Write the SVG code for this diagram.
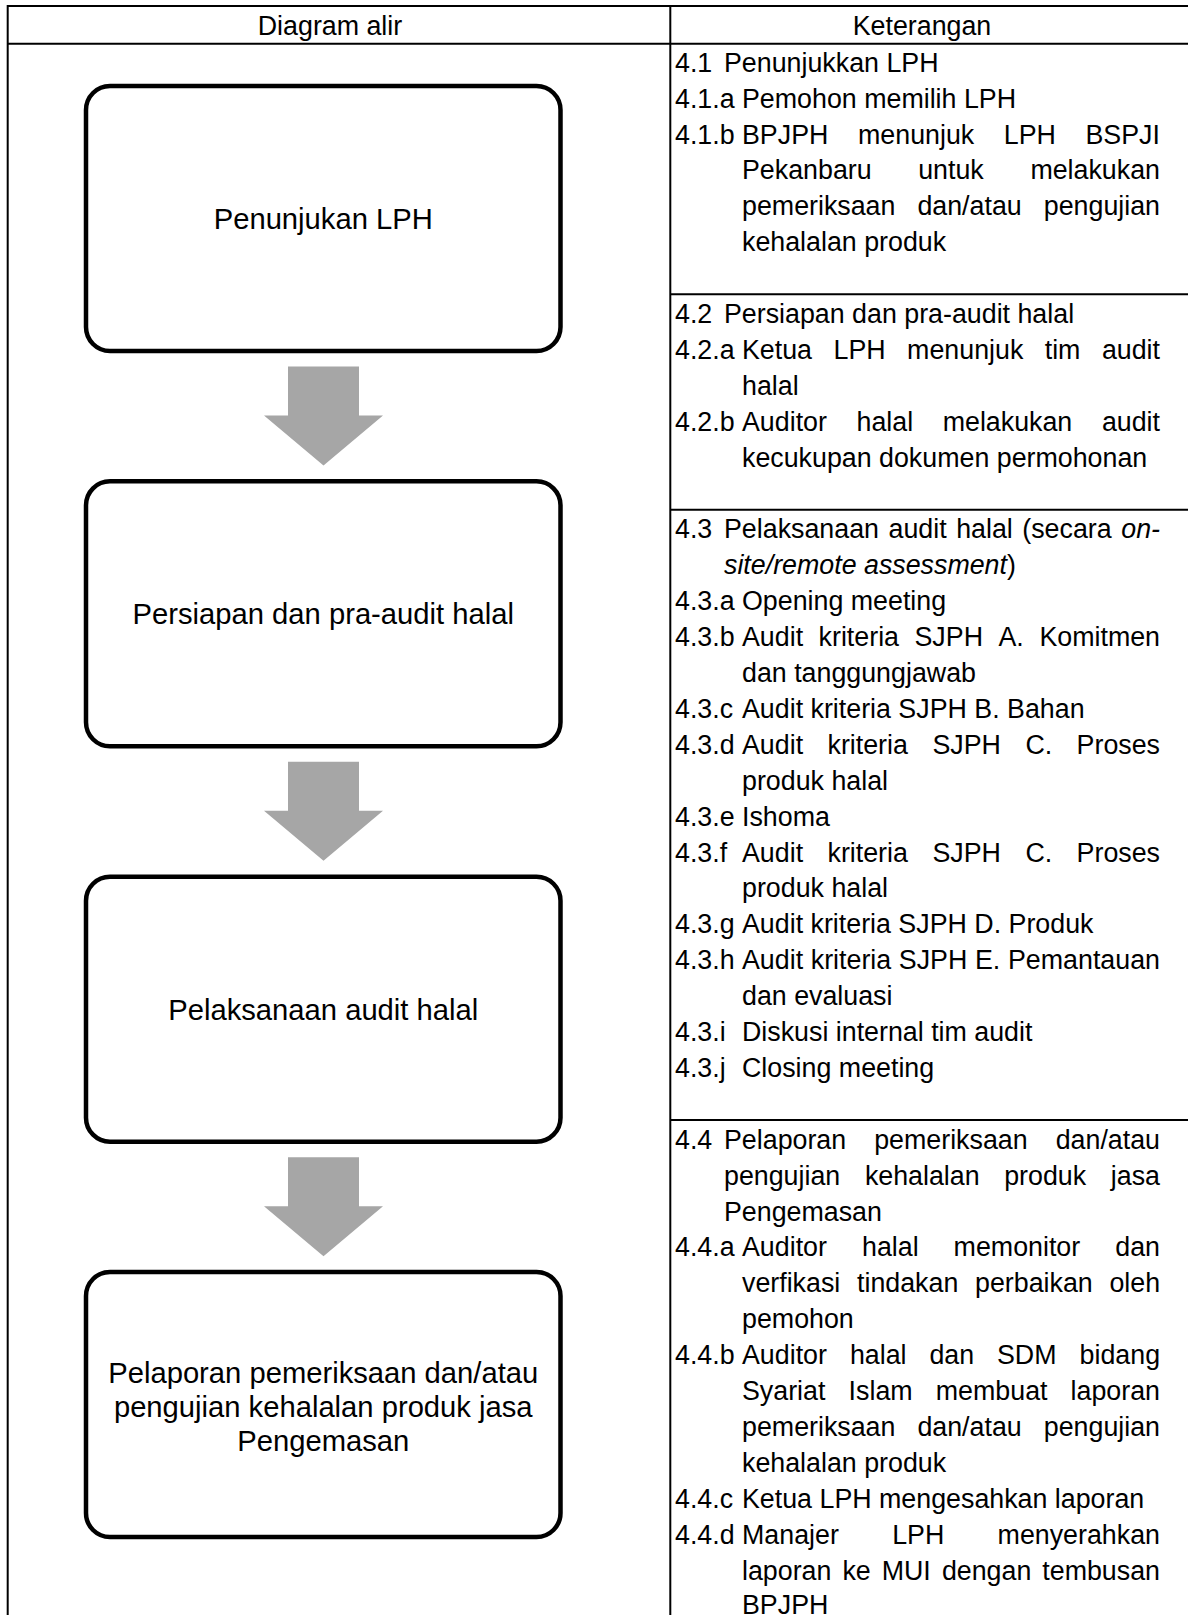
<svg xmlns="http://www.w3.org/2000/svg" xmlns:xlink="http://www.w3.org/1999/xlink" width="1188" height="1615" viewBox="0 0 1188 1615">
<style>
.grid{stroke:#000;stroke-width:2;fill:none}
.box{fill:#fff;stroke:#000;stroke-width:4.5}
.boxtxt{font-family:"Liberation Sans",Arial,sans-serif;font-size:29.2px;fill:#000;text-anchor:middle}
.hdr{font-family:"Liberation Sans",Arial,sans-serif;font-size:26.8px;fill:#000;text-anchor:middle}
.t{font-family:"Liberation Sans",Arial,sans-serif;font-size:26.8px;fill:#000}
.it{font-style:italic}
.arrow{fill:#a6a6a6}
</style>
<defs>
<path id="blockArrow" d="M-35.5,0 H35.5 V49 H59.5 L0,99 L-59.5,49 H-35.5 Z"/>
</defs>
<rect width="1188" height="1615" fill="#fff"/>
<g id="table">
<line class="grid" x1="7.7" y1="6" x2="1188" y2="6"/>
<line class="grid" x1="7.7" y1="43.7" x2="1188" y2="43.7"/>
<line class="grid" x1="7.7" y1="5" x2="7.7" y2="1615"/>
<line class="grid" x1="670.3" y1="5" x2="670.3" y2="1615"/>
<line class="grid" x1="670.3" y1="294.3" x2="1188" y2="294.3"/>
<line class="grid" x1="670.3" y1="509.7" x2="1188" y2="509.7"/>
<line class="grid" x1="670.3" y1="1120" x2="1188" y2="1120"/>
<text class="hdr" x="330" y="35">Diagram alir</text>
<text class="hdr" x="922" y="35">Keterangan</text>
</g>
<g id="node-1">
<rect class="box" x="86" y="86" width="474.5" height="265" rx="24" ry="24"/>
<text class="boxtxt" x="323.25" y="229">Penunjukan LPH</text>
</g>
<g id="node-2">
<rect class="box" x="86" y="481.3" width="474.5" height="265" rx="24" ry="24"/>
<text class="boxtxt" x="323.25" y="624">Persiapan dan pra-audit halal</text>
</g>
<g id="node-3">
<rect class="box" x="86" y="876.7" width="474.5" height="265" rx="24" ry="24"/>
<text class="boxtxt" x="323.25" y="1020">Pelaksanaan audit halal</text>
</g>
<g id="node-4">
<rect class="box" x="86" y="1272" width="474.5" height="265" rx="24" ry="24"/>
<text class="boxtxt" x="323.25" y="1383">Pelaporan pemeriksaan dan/atau</text>
<text class="boxtxt" x="323.25" y="1417">pengujian kehalalan produk jasa</text>
<text class="boxtxt" x="323.25" y="1451">Pengemasan</text>
</g>
<g id="connectors">
<use xlink:href="#blockArrow" href="#blockArrow" class="arrow" x="323.5" y="366.5"/>
<use xlink:href="#blockArrow" href="#blockArrow" class="arrow" x="323.5" y="761.8"/>
<use xlink:href="#blockArrow" href="#blockArrow" class="arrow" x="323.5" y="1157.2"/>
</g>
<g id="notes-4-1">
<text class="t" y="71.7"><tspan x="675">4.1</tspan> <tspan x="724">Penunjukkan LPH</tspan></text>
<text class="t" y="107.6"><tspan x="675">4.1.a</tspan> <tspan x="742">Pemohon memilih LPH</tspan></text>
<text class="t" y="143.5"><tspan x="675">4.1.b</tspan> <tspan x="742">BPJPH</tspan> <tspan x="858">menunjuk</tspan> <tspan x="1003.8">LPH</tspan> <tspan x="1085.5">BSPJI</tspan></text>
<text class="t" y="179.4"><tspan x="742">Pekanbaru</tspan> <tspan x="918.2">untuk</tspan> <tspan x="1030.4">melakukan</tspan></text>
<text class="t" y="215.3"><tspan x="742">pemeriksaan</tspan> <tspan x="917.4">dan/atau</tspan> <tspan x="1043.8">pengujian</tspan></text>
<text class="t" x="742" y="251.2">kehalalan produk</text>
</g>
<g id="notes-4-2">
<text class="t" y="323"><tspan x="675">4.2</tspan> <tspan x="724">Persiapan dan pra-audit halal</tspan></text>
<text class="t" y="358.9"><tspan x="675">4.2.a</tspan> <tspan x="742">Ketua</tspan> <tspan x="833.5">LPH</tspan> <tspan x="907.1">menunjuk</tspan> <tspan x="1044.7">tim</tspan> <tspan x="1101.9">audit</tspan></text>
<text class="t" x="742" y="394.8">halal</text>
<text class="t" y="430.7"><tspan x="675">4.2.b</tspan> <tspan x="742">Auditor</tspan> <tspan x="856.5">halal</tspan> <tspan x="942.7">melakukan</tspan> <tspan x="1101.9">audit</tspan></text>
<text class="t" x="742" y="466.6">kecukupan dokumen permohonan</text>
</g>
<g id="notes-4-3">
<text class="t" y="538.4"><tspan x="675">4.3</tspan> <tspan x="724">Pelaksanaan</tspan> <tspan x="888.5">audit</tspan> <tspan x="956.2">halal</tspan> <tspan x="1022.3">(secara</tspan> <tspan x="1121.3" class="it">on-</tspan></text>
<text class="t" x="724" y="574.3"><tspan class="it">site/remote assessment</tspan>)</text>
<text class="t" y="610.2"><tspan x="675">4.3.a</tspan> <tspan x="742">Opening meeting</tspan></text>
<text class="t" y="646.1"><tspan x="675">4.3.b</tspan> <tspan x="742">Audit</tspan> <tspan x="818.6">kriteria</tspan> <tspan x="914.5">SJPH</tspan> <tspan x="998.5">A.</tspan> <tspan x="1039.4">Komitmen</tspan></text>
<text class="t" x="742" y="682">dan tanggungjawab</text>
<text class="t" y="717.9"><tspan x="675">4.3.c</tspan> <tspan x="742">Audit kriteria SJPH B. Bahan</tspan></text>
<text class="t" y="753.8"><tspan x="675">4.3.d</tspan> <tspan x="742">Audit</tspan> <tspan x="827.5">kriteria</tspan> <tspan x="932.4">SJPH</tspan> <tspan x="1025.4">C.</tspan> <tspan x="1076.6">Proses</tspan></text>
<text class="t" x="742" y="789.7">produk halal</text>
<text class="t" y="825.6"><tspan x="675">4.3.e</tspan> <tspan x="742">Ishoma</tspan></text>
<text class="t" y="861.5"><tspan x="675">4.3.f</tspan> <tspan x="742">Audit</tspan> <tspan x="827.5">kriteria</tspan> <tspan x="932.4">SJPH</tspan> <tspan x="1025.4">C.</tspan> <tspan x="1076.6">Proses</tspan></text>
<text class="t" x="742" y="897.4">produk halal</text>
<text class="t" y="933.3"><tspan x="675">4.3.g</tspan> <tspan x="742">Audit kriteria SJPH D. Produk</tspan></text>
<text class="t" y="969.2"><tspan x="675">4.3.h</tspan> <tspan x="742">Audit</tspan> <tspan x="810.8">kriteria</tspan> <tspan x="898.8">SJPH</tspan> <tspan x="975">E.</tspan> <tspan x="1008">Pemantauan</tspan></text>
<text class="t" x="742" y="1005.1">dan evaluasi</text>
<text class="t" y="1041"><tspan x="675">4.3.i</tspan> <tspan x="742">Diskusi internal tim audit</tspan></text>
<text class="t" y="1076.9"><tspan x="675">4.3.j</tspan> <tspan x="742">Closing meeting</tspan></text>
</g>
<g id="notes-4-4">
<text class="t" y="1148.7"><tspan x="675">4.4</tspan> <tspan x="724">Pelaporan</tspan> <tspan x="874.2">pemeriksaan</tspan> <tspan x="1055.7">dan/atau</tspan></text>
<text class="t" y="1184.6"><tspan x="724">pengujian</tspan> <tspan x="864.9">kehalalan</tspan> <tspan x="1004.2">produk</tspan> <tspan x="1110.8">jasa</tspan></text>
<text class="t" x="724" y="1220.5">Pengemasan</text>
<text class="t" y="1256.4"><tspan x="675">4.4.a</tspan> <tspan x="742">Auditor</tspan> <tspan x="862">halal</tspan> <tspan x="953.6">memonitor</tspan> <tspan x="1115.3">dan</tspan></text>
<text class="t" y="1292.3"><tspan x="742">verfikasi</tspan> <tspan x="857">tindakan</tspan> <tspan x="975">perbaikan</tspan> <tspan x="1109.4">oleh</tspan></text>
<text class="t" x="742" y="1328.2">pemohon</text>
<text class="t" y="1364.1"><tspan x="675">4.4.b</tspan> <tspan x="742">Auditor</tspan> <tspan x="849.9">halal</tspan> <tspan x="929.4">dan</tspan> <tspan x="997">SDM</tspan> <tspan x="1079.6">bidang</tspan></text>
<text class="t" y="1400"><tspan x="742">Syariat</tspan> <tspan x="848.6">Islam</tspan> <tspan x="935.8">membuat</tspan> <tspan x="1070.6">laporan</tspan></text>
<text class="t" y="1435.9"><tspan x="742">pemeriksaan</tspan> <tspan x="917.4">dan/atau</tspan> <tspan x="1043.8">pengujian</tspan></text>
<text class="t" x="742" y="1471.8">kehalalan produk</text>
<text class="t" y="1507.7"><tspan x="675">4.4.c</tspan> <tspan x="742">Ketua LPH mengesahkan laporan</tspan></text>
<text class="t" y="1543.6"><tspan x="675">4.4.d</tspan> <tspan x="742">Manajer</tspan> <tspan x="892.2">LPH</tspan> <tspan x="997.6">menyerahkan</tspan></text>
<text class="t" y="1579.5"><tspan x="742">laporan</tspan> <tspan x="842.4">ke</tspan> <tspan x="881.7">MUI</tspan> <tspan x="941.9">dengan</tspan> <tspan x="1042.3">tembusan</tspan></text>
<text class="t" x="742" y="1614">BPJPH</text>
</g>
</svg>
